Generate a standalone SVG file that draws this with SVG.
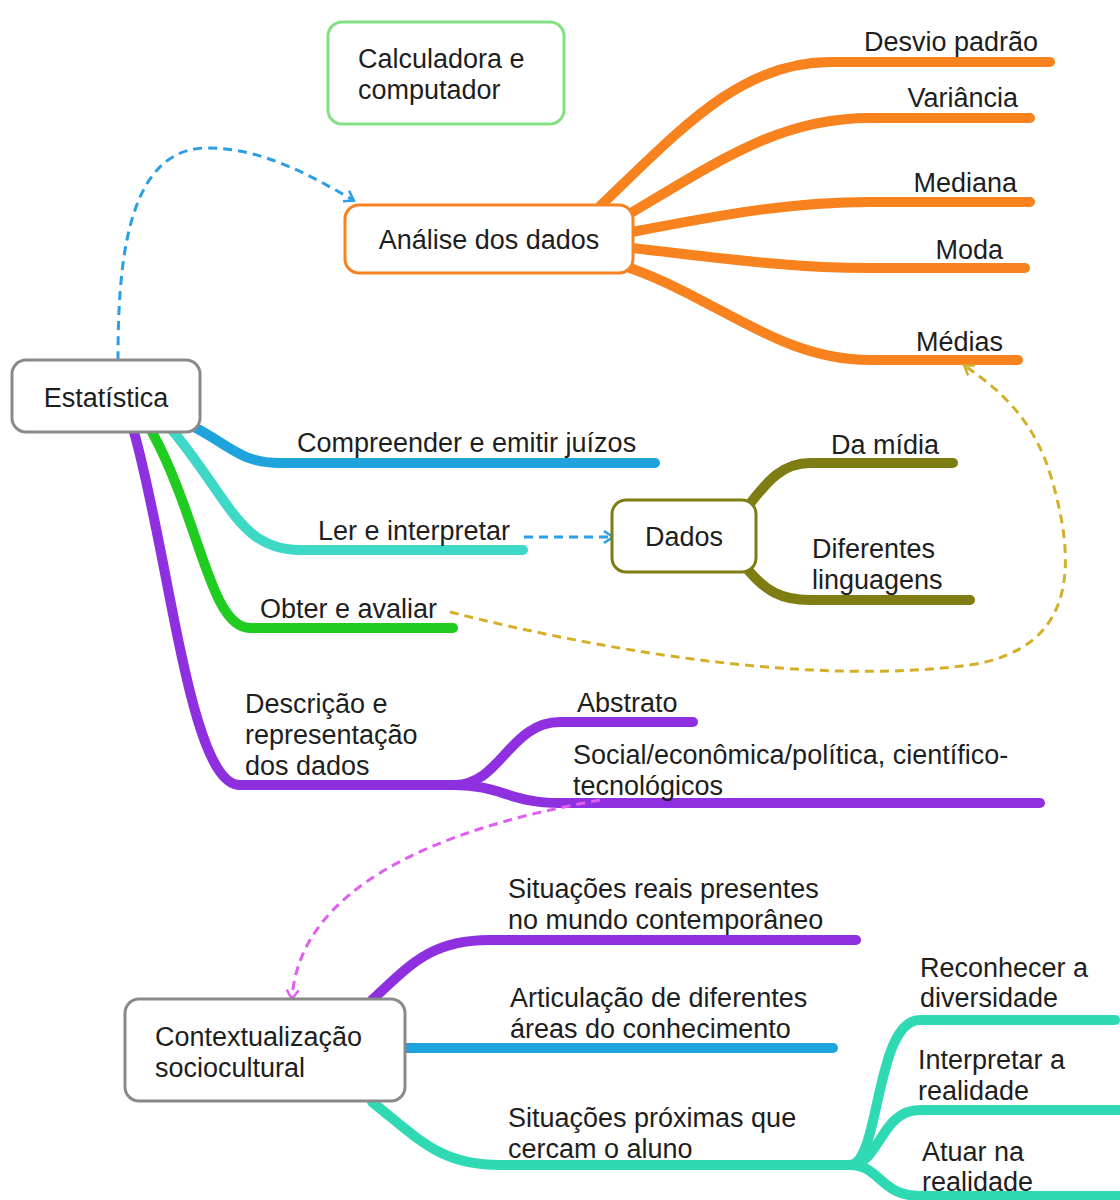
<svg xmlns="http://www.w3.org/2000/svg" width="1120" height="1200" viewBox="0 0 1120 1200">
<defs>
<style>
text{font-family:"Liberation Sans",Arial,sans-serif;font-size:27px;fill:#1e1e1e}
.box{fill:#fff;stroke-width:3}
.br{fill:none;stroke-width:10;stroke-linecap:round;stroke-linejoin:round}
.or{stroke:#f7821e}.bl{stroke:#1fa3dc}.tl{stroke:#3ed8c6}.gr{stroke:#1fcc1f}.pu{stroke:#8e2fe0}.ol{stroke:#7d7d14}.tq{stroke:#2ed9b4}
.dash{fill:none;stroke-width:3;stroke-dasharray:9 6}
</style>
<marker id="aBlue" markerWidth="14" markerHeight="14" refX="10" refY="7" orient="auto" markerUnits="userSpaceOnUse"><path d="M2,1 L11,7 L2,13" fill="none" stroke="#2a9fe6" stroke-width="2.5"/></marker>
<marker id="aYel" markerWidth="14" markerHeight="14" refX="10" refY="7" orient="auto" markerUnits="userSpaceOnUse"><path d="M2,1 L11,7 L2,13" fill="none" stroke="#d4b02a" stroke-width="2.5"/></marker>
<marker id="aMag" markerWidth="14" markerHeight="14" refX="10" refY="7" orient="auto" markerUnits="userSpaceOnUse"><path d="M2,1 L11,7 L2,13" fill="none" stroke="#e05ef0" stroke-width="2.5"/></marker>
</defs>
<rect width="1120" height="1200" fill="#fff"/>
<g id="connectors">
<path class="br or" d="M600,206 C680,130 740,62 830,62 L1050,62"/>
<path class="br or" d="M626,216 C720,160 780,118 870,118 L1030,118"/>
<path class="br or" d="M632,232 C720,215 790,202 870,202 L1030,202"/>
<path class="br or" d="M632,248 C720,258 790,268 870,268 L1025,268"/>
<path class="br or" d="M630,268 C720,300 780,360 870,360 L1018,360"/>
<path class="br bl" d="M192,426 C230,445 240,463 280,463 L655,463"/>
<path class="br tl" d="M172,430 C230,500 240,550 300,550 L523,550"/>
<path class="br gr" d="M152,432 C200,520 210,628 250,628 L453,628"/>
<path class="br pu" d="M134,432 C170,560 190,785 240,785 L455,785 C500,785 510,722 560,722 L693,722"/>
<path class="br pu" d="M455,785 C500,785 510,803 560,803 L1040,803"/>
<path class="br ol" d="M748,506 C765,485 780,463 810,463 L953,463"/>
<path class="br ol" d="M748,570 C765,590 780,600 810,600 L970,600"/>
<path class="br pu" d="M372,1000 C410,965 430,940 490,940 L856,940"/>
<path class="br bl" d="M405,1048 L833,1048"/>
<path class="br tq" d="M372,1102 C420,1140 440,1165 500,1165 L850,1165 C880,1165 875,1020 920,1020 L1115,1020"/>
<path class="br tq" d="M850,1165 C880,1165 880,1110 920,1110 L1120,1110"/>
<path class="br tq" d="M850,1165 C880,1165 880,1196 920,1196 L1120,1196"/>
<path class="dash" stroke="#2a9fe6" stroke-dasharray="16 10" d="M118,360 C118,270 125,150 205,148 C260,147 310,175 353,200" marker-end="url(#aBlue)"/>
<path class="dash" stroke="#2a9fe6" d="M524,537 L612,537" marker-end="url(#aBlue)"/>
<path class="dash" stroke="#d4b02a" d="M450,612 C620,655 820,685 970,665 C1080,648 1075,560 1052,480 C1035,420 1000,390 965,366" marker-end="url(#aYel)"/>
<path class="dash" stroke="#e05ef0" d="M600,800 C430,830 300,890 292,998" marker-end="url(#aMag)"/>
</g>
<g id="calc"><rect class="box" x="328" y="22" width="236" height="102" rx="14" stroke="#82e082"/><text x="358" y="68">Calculadora e</text><text x="358" y="99">computador</text></g>
<g id="analise"><rect class="box" x="345" y="205" width="288" height="68" rx="14" stroke="#f7821e"/><text x="489" y="249" text-anchor="middle">Análise dos dados</text></g>
<g id="estatistica"><rect class="box" x="12" y="360" width="188" height="72" rx="14" stroke="#8a8a8a"/><text x="106" y="407" text-anchor="middle">Estatística</text></g>
<g id="dados"><rect class="box" x="612" y="500" width="144" height="72" rx="14" stroke="#7d7d14"/><text x="684" y="546" text-anchor="middle">Dados</text></g>
<g id="contexto"><rect class="box" x="125" y="999" width="280" height="102" rx="14" stroke="#8a8a8a"/><text x="155" y="1046">Contextualização</text><text x="155" y="1077">sociocultural</text></g>
<g id="desvio"><text x="1038" y="51" text-anchor="end">Desvio padrão</text></g>
<g id="variancia"><text x="1018" y="107" text-anchor="end">Variância</text></g>
<g id="mediana"><text x="1017" y="192" text-anchor="end">Mediana</text></g>
<g id="moda"><text x="1003" y="259" text-anchor="end">Moda</text></g>
<g id="medias"><text x="1003" y="351" text-anchor="end">Médias</text></g>
<g id="compreender"><text x="297" y="452">Compreender e emitir juízos</text></g>
<g id="ler"><text x="318" y="540">Ler e interpretar</text></g>
<g id="obter"><text x="260" y="618">Obter e avaliar</text></g>
<g id="descricao"><text x="245" y="713">Descrição e</text><text x="245" y="744">representação</text><text x="245" y="775">dos dados</text></g>
<g id="abstrato"><text x="577" y="712">Abstrato</text></g>
<g id="social"><text x="573" y="764">Social/econômica/política, científico-</text><text x="573" y="795">tecnológicos</text></g>
<g id="midia"><text x="831" y="454">Da mídia</text></g>
<g id="linguagens"><text x="812" y="558">Diferentes</text><text x="812" y="589">linguagens</text></g>
<g id="reais"><text x="508" y="898">Situações reais presentes</text><text x="508" y="929">no mundo contemporâneo</text></g>
<g id="articulacao"><text x="510" y="1007">Articulação de diferentes</text><text x="510" y="1038">áreas do conhecimento</text></g>
<g id="proximas"><text x="508" y="1127">Situações próximas que</text><text x="508" y="1158">cercam o aluno</text></g>
<g id="reconhecer"><text x="920" y="977">Reconhecer a</text><text x="920" y="1007">diversidade</text></g>
<g id="interpretar"><text x="918" y="1069">Interpretar a</text><text x="918" y="1100">realidade</text></g>
<g id="atuar"><text x="922" y="1161">Atuar na</text><text x="922" y="1191">realidade</text></g>
</svg>
